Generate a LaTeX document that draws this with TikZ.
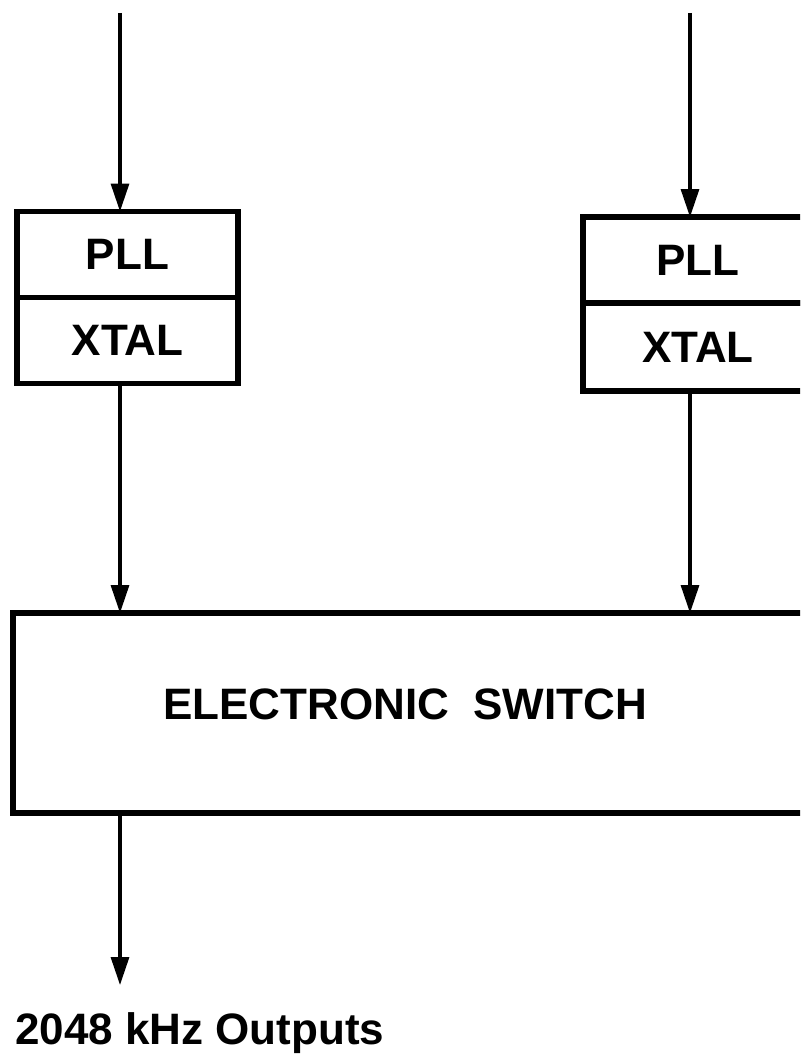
\documentclass[tikz,border=0pt]{standalone}
\usepackage{fontspec}
\setmainfont{Liberation Sans}
\usetikzlibrary{positioning,arrows.meta,calc}

\begin{document}
\begin{tikzpicture}[
  x=1pt,y=-1pt,
  font=\fontsize{44}{52}\selectfont\bfseries,
  node distance=0pt,
  box/.style={draw,line width=5.5pt,outer sep=0pt,inner sep=0pt,align=center},
  unit/.style={box,minimum width=221pt,minimum height=86pt},
  ar/.style={-{Triangle[length=28pt,width=18pt]},line width=3.2pt},
  lbl/.style={inner sep=0pt}
]
\useasboundingbox (0,0) rectangle (800,1054);
\clip (0,0) rectangle (800,1054);
\coordinate (inA) at (120,13);
\coordinate (inB) at (690,13);
\node[unit] (pllA) at (127.5,254.5) {PLL};
\node[unit,below=of pllA] (xtalA) {XTAL};
\node[unit,minimum width=230pt] (pllB) at (698,260) {PLL};
\node[unit,minimum width=230pt,minimum height=88pt,below=of pllB] (xtalB) {XTAL};
\node[box,minimum width=792pt,minimum height=200pt] (sw) at (409,713) {};
\node[lbl] (swlbl) at (405,704) {ELECTRONIC\ \ SWITCH};
\coordinate (outA) at (120,985);
\node[lbl,anchor=base west] (outlbl) at (15,1044) {2048 kHz Outputs};

\draw[ar] (inA) -- (inA |- pllA.north);
\draw[ar] (inB) -- (inB |- pllB.north);
\draw[ar] (inA |- xtalA.south) -- (inA |- sw.north);
\draw[ar] (inB |- xtalB.south) -- (inB |- sw.north);
\draw[ar] (inA |- sw.south) -- (outA);
\end{tikzpicture}
\end{document}
